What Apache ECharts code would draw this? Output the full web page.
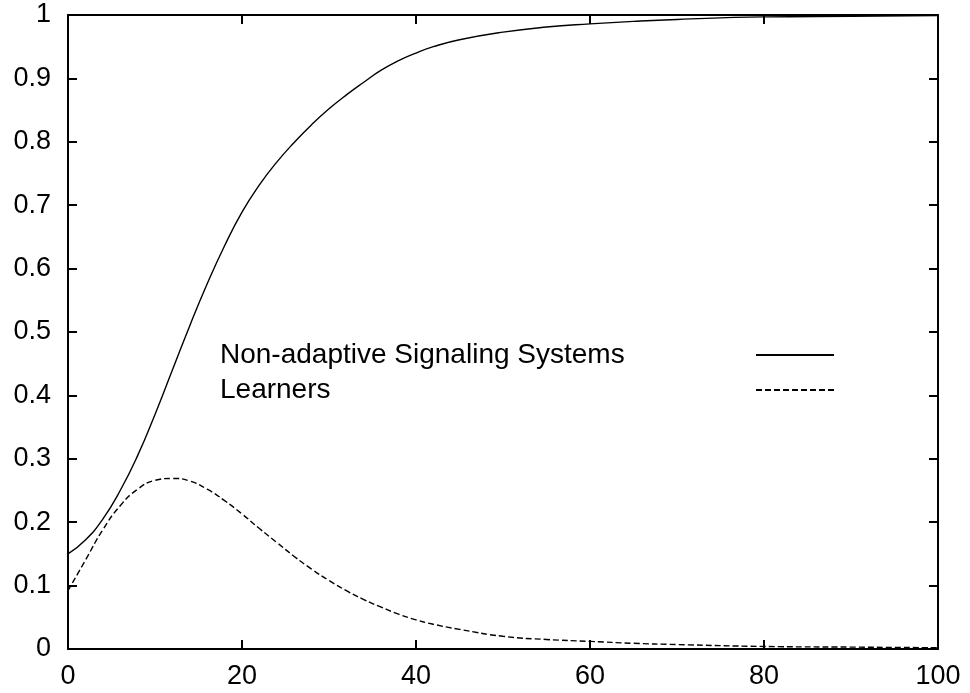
<!DOCTYPE html>
<html>
<head>
<meta charset="utf-8">
<script src="https://cdn.jsdelivr.net/npm/echarts@6/dist/echarts.min.js"></script>
<style>
  html, body { margin: 0; padding: 0; background: #fff; }
  #main { width: 970px; height: 693px; }
</style>
</head>
<body>
<div id="main"></div>
<script>
// sample positions along the x axis
var xs = [0, 2, 4, 6, 8, 10, 12, 14, 16, 18, 20, 22, 24, 26, 28, 30, 32, 34, 36, 38, 40,
          42, 45, 50, 55, 60, 65, 70, 80, 90, 100];
// Non-adaptive Signaling Systems
var signaling = [0.150, 0.172, 0.205, 0.250, 0.305, 0.370, 0.440, 0.510, 0.576, 0.636, 0.689,
                 0.732, 0.768, 0.799, 0.827, 0.852, 0.874, 0.894, 0.913, 0.928, 0.940,
                 0.950, 0.961, 0.973, 0.981, 0.986, 0.990, 0.993, 0.997, 0.998, 0.999];
// Learners
var learners = [0.092, 0.140, 0.188, 0.226, 0.252, 0.266, 0.269, 0.265, 0.252, 0.234, 0.213,
                0.190, 0.168, 0.146, 0.126, 0.108, 0.092, 0.078, 0.066, 0.055, 0.046,
                0.039, 0.031, 0.020, 0.015, 0.012, 0.009, 0.007, 0.004, 0.003, 0.002];
var seriesNames = ['Non-adaptive Signaling Systems', 'Learners'];
var xTicks = [0, 20, 40, 60, 80, 100];
var yTicks = [0, 0.1, 0.2, 0.3, 0.4, 0.5, 0.6, 0.7, 0.8, 0.9, 1];

function pairs(ys) {
    return xs.map(function (x, i) { return [x, ys[i]]; });
}

var font = 'Liberation Sans, Arial, Helvetica, sans-serif';
var axisLine = { show: true, onZero: false, lineStyle: { color: '#000', width: 2 } };
var tick = { show: true, inside: true, length: 9, lineStyle: { color: '#000', width: 2 } };
var clear = 'rgba(0,0,0,0)';

var chart = echarts.init(document.getElementById('main'));
chart.setOption({
    backgroundColor: '#fff',
    animation: false,
    grid: { left: 68, right: 32, top: 15, bottom: 44 },
    legend: {
        orient: 'vertical',
        left: 215,
        top: 336,
        align: 'right',
        itemWidth: 78,
        itemHeight: 14,
        itemGap: 7,
        data: seriesNames,
        // hide the circle marker, keep the line sample
        itemStyle: { color: clear, borderColor: clear, borderWidth: 0 },
        formatter: function (name) { return '{t|' + name + '}'; },
        textStyle: {
            fontFamily: font, fontSize: 28, color: '#000',
            rich: {
                t: { fontFamily: font, fontSize: 28, color: '#000',
                     width: 531, align: 'left', lineHeight: 28 }
            }
        }
    },
    xAxis: [{
        type: 'value', position: 'bottom',
        min: xTicks[0], max: xTicks[xTicks.length - 1], interval: xTicks[1] - xTicks[0],
        axisLine: axisLine, axisTick: tick, splitLine: { show: false },
        axisLabel: { fontFamily: font, fontSize: 27, color: '#000', margin: 14 }
    }, {
        type: 'value', position: 'top',
        min: xTicks[0], max: xTicks[xTicks.length - 1], interval: xTicks[1] - xTicks[0],
        axisLine: axisLine, axisTick: tick, splitLine: { show: false },
        axisLabel: { show: false }
    }],
    yAxis: [{
        type: 'value', position: 'left',
        min: yTicks[0], max: yTicks[yTicks.length - 1], interval: yTicks[1] - yTicks[0],
        axisLine: axisLine, axisTick: tick, splitLine: { show: false },
        axisLabel: {
            fontFamily: font, fontSize: 27, color: '#000', margin: 17,
            formatter: function (v) { return String(Math.round(v * 10) / 10); }
        }
    }, {
        type: 'value', position: 'right',
        min: yTicks[0], max: yTicks[yTicks.length - 1], interval: yTicks[1] - yTicks[0],
        axisLine: axisLine, axisTick: tick, splitLine: { show: false },
        axisLabel: { show: false }
    }],
    series: [{
        name: seriesNames[0],
        type: 'line',
        data: pairs(signaling),
        smooth: 0.5,
        symbol: 'none',
        lineStyle: { color: '#000', width: 1.4, type: 'solid' },
        itemStyle: { color: '#000' }
    }, {
        name: seriesNames[1],
        type: 'line',
        data: pairs(learners),
        smooth: 0.5,
        symbol: 'none',
        lineStyle: { color: '#000', width: 1.4, type: [6, 3] },
        itemStyle: { color: '#000' }
    }]
});
</script>
</body>
</html>
